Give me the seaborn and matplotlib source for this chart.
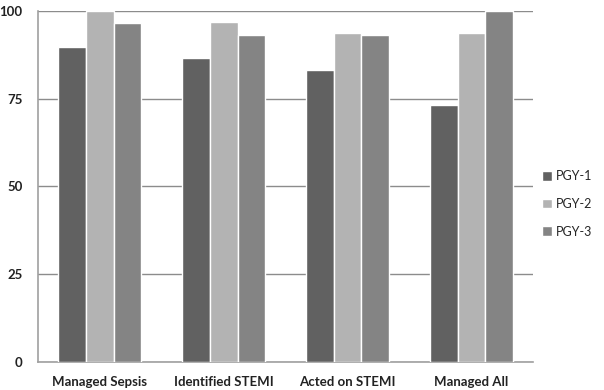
import pandas as pd
import seaborn as sns
import matplotlib.pyplot as plt

# chart values
categories = ["Managed Sepsis", "Identified STEMI", "Acted on STEMI", "Managed All"]
series = ["PGY-1", "PGY-2", "PGY-3"]
pgy1 = [89.8, 86.5, 83.2, 73.1]
pgy2 = [100.0, 96.8, 93.6, 93.6]
pgy3 = [96.5, 93.0, 93.0, 100.0]
y_ticks = [0, 25, 50, 75, 100]

colors = ["#616161", "#b3b3b3", "#848484"]

sns.set_style("white")
plt.rcParams["font.family"] = ["Lato", "DejaVu Sans"]

df = pd.DataFrame({
    "Category": categories * 3,
    "Group": [s for s in series for _ in categories],
    "Value": pgy1 + pgy2 + pgy3,
})

fig = plt.figure(figsize=(6.04, 3.90), dpi=100)
ax = fig.add_axes([0.063, 0.072, 0.82, 0.900])

sns.barplot(data=df, x="Category", y="Value", hue="Group", order=categories,
            hue_order=series, palette=colors, width=0.67, saturation=1,
            ax=ax, zorder=3)

ax.set_ylim(0, 100)
ax.set_xlim(-0.5, 3.5)
ax.set_yticks(y_ticks)
ax.set_yticklabels([str(t) for t in y_ticks], fontsize=9.5,
                   fontweight="bold", color="#222222")
ax.yaxis.grid(True, color="#8c8c8c", linewidth=1, zorder=0)
ax.set_axisbelow(True)

ax.set_xticks(range(len(categories)))
ax.set_xticklabels(categories, fontsize=9.5, fontweight="bold", color="#222222")
ax.set_xticks([-0.5, 0.5, 1.5, 2.5, 3.5], minor=True)
ax.tick_params(axis="x", which="major", length=0, pad=10)
ax.tick_params(axis="x", which="minor", length=5, color="#a0a0a0", direction="out")
ax.tick_params(axis="y", length=5, color="#a0a0a0", direction="out", pad=6)
ax.set_xlabel("")
ax.set_ylabel("")

for side in ["top", "right"]:
    ax.spines[side].set_visible(False)
for side in ["left", "bottom"]:
    ax.spines[side].set_color("#a0a0a0")
    ax.spines[side].set_linewidth(1.2)

ax.legend(title=None, frameon=False, loc="center left",
          bbox_to_anchor=(1.0, 0.45), fontsize=9, handlelength=0.8,
          handleheight=0.8, handletextpad=0.3, labelspacing=1.25,
          borderpad=0.2)

plt.savefig("out.png", dpi=100)
